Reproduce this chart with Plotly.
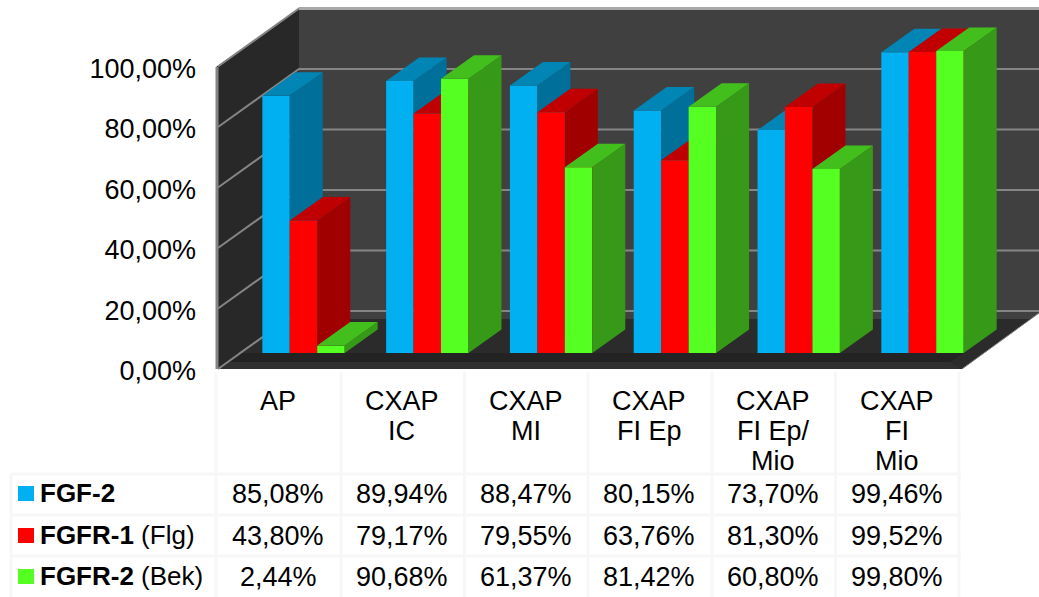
import plotly.graph_objects as go

# Chart data
categories = ["AP", "CXAP<br>IC", "CXAP<br>MI", "CXAP<br>FI Ep", "CXAP<br>FI Ep/<br>Mio", "CXAP<br>FI<br>Mio"]
series_names = ["FGF-2", "FGFR-1", "FGFR-2"]
series_suffix = ["", " (Flg)", " (Bek)"]
fgf2 = [85.08, 89.94, 88.47, 80.15, 73.70, 99.46]
fgfr1 = [43.80, 79.17, 79.55, 63.76, 81.30, 99.52]
fgfr2 = [2.44, 90.68, 61.37, 81.42, 60.80, 99.80]
tick_values = [0, 20, 40, 60, 80, 100]

# Face colours for each series: front, top, side
blue = ("#00B0F0", "#0085B5", "#006F9A")
red = ("#FF0000", "#C00000", "#A00000")
green = ("#55FF22", "#42BF1C", "#369A18")

W, H = 1039, 597
PX_GROUP = 123.8      # horizontal pixels per category
PX_PCT = 3.025        # vertical pixels per percentage point
GROUP0_PX = 303.5     # centre of the first category
BAR_BASE_PX = 353     # zero line of the bars' front plane
AXIS_BASE_PX = 371    # zero line of the value axis labels
PLOT_LEFT_PX = 197
BAR_W = 27.45 / PX_GROUP
BAR_DX, BAR_DY = 33 / PX_GROUP, 23.5 / PX_PCT

x_range = [(PLOT_LEFT_PX - GROUP0_PX) / PX_GROUP, (W - GROUP0_PX) / PX_GROUP]


def y_range(base_px):
    return [-(H - base_px) / PX_PCT, base_px / PX_PCT]


def wx(px):
    return (px - GROUP0_PX) / PX_GROUP


def wy(py):
    return (AXIS_BASE_PX - py) / PX_PCT


def poly(points, color, **kw):
    xs = [wx(p[0]) for p in points]
    ys = [wy(p[1]) for p in points]
    return go.Scatter(x=xs, y=ys, mode="lines", fill="toself", fillcolor=color,
                      line=dict(width=0), hoverinfo="skip", showlegend=False, **kw)


def seg(points, color, width):
    return go.Scatter(x=[wx(p[0]) for p in points], y=[wy(p[1]) for p in points], mode="lines",
                      line=dict(color=color, width=width), hoverinfo="skip", showlegend=False)


fig = go.Figure()

# Chart box: back wall, floor, left wall
fig.add_trace(poly([(299, 9), (1039, 9), (1039, 313), (1031, 319), (287, 319)], "#404040"))
fig.add_trace(poly([(216, 369), (962, 369), (1031, 319), (287, 319)], "#2B2B2B"))
fig.add_trace(poly([(216, 353), (964, 353), (950, 362), (216, 362)], "#232323"))
fig.add_trace(poly([(216, 362), (950, 362), (962, 369), (216, 369)], "#303030"))
fig.add_trace(poly([(216, 67), (299, 9), (299, 311), (216, 369)], "#282828"))

# Gridlines run along the left wall and across the back wall
for t in tick_values:
    back_y = 311 - t * PX_PCT
    front_y = 369 - t * PX_PCT
    fig.add_trace(seg([(218, front_y), (299, back_y), (1039, back_y)], "#858585", 2))
fig.add_trace(seg([(299, 8.5), (1039, 8.5)], "#A8A8A8", 3))
fig.add_trace(seg([(217, 67), (217, 369)], "#858585", 3))
fig.add_trace(seg([(962, 369), (1039, 313)], "#808080", 1))

# One overlaid axis pair per series so that each series paints over the previous one
all_series = [(fgf2, blue), (fgfr1, red), (fgfr2, green)]
for s, (values, (front, top, side)) in enumerate(all_series):
    ax = s + 2
    offset = (s - 1) * BAR_W
    xs = [g + offset for g in range(len(values))]
    fig.add_trace(go.Bar(x=xs, y=values, width=BAR_W, marker=dict(color=front, line=dict(width=0)),
                         name=series_names[s], showlegend=False,
                         xaxis=f"x{ax}", yaxis=f"y{ax}"))
    side_x, side_y, top_x, top_y = [], [], [], []
    for x, v in zip(xs, values):
        l, r = x - BAR_W / 2, x + BAR_W / 2
        side_x += [r, r + BAR_DX, r + BAR_DX, r, r, None]
        side_y += [0, BAR_DY, v + BAR_DY, v, 0, None]
        top_x += [l, l + BAR_DX, r + BAR_DX, r, l, None]
        top_y += [v, v + BAR_DY, v + BAR_DY, v, v, None]
    for px_x, px_y, color in ((side_x, side_y, side), (top_x, top_y, top)):
        fig.add_trace(go.Scatter(x=px_x, y=px_y, mode="lines", fill="toself", fillcolor=color,
                                 line=dict(width=0), hoverinfo="skip", showlegend=False,
                                 xaxis=f"x{ax}", yaxis=f"y{ax}"))

# Data table underneath the chart
annotations = []
shapes = []


def label(text, px, py, size, anchor="center", color="#000000"):
    annotations.append(dict(text=text, x=px / W, y=1 - py / H, xref="paper", yref="paper",
                            xanchor=anchor, yanchor="middle", showarrow=False,
                            font=dict(family="Liberation Sans", size=size, color=color)))


def rule(x0, y0, x1, y1):
    shapes.append(dict(type="line", xref="paper", yref="paper",
                       x0=x0 / W, x1=x1 / W, y0=1 - y0 / H, y1=1 - y1 / H,
                       line=dict(color="#F7F7F7", width=3)))


for vx in [216, 341, 464.5, 588, 712, 835.5, 959]:
    rule(vx, 372, vx, H)
rule(11, 474, 11, H)
for hy in [474, 515, 556]:
    rule(11, hy, 961, hy)

COL_CENTERS = [278 + i * 123.8 for i in range(len(categories))]
for cx, cat in zip(COL_CENTERS, categories):
    for j, line in enumerate(cat.split("<br>")):
        label(line, cx, 401 + j * 30, 27)

ROW_Y = [494, 536, 577]
for py, values, (front, _, _), name, suffix in zip(ROW_Y, (fgf2, fgfr1, fgfr2), (blue, red, green),
                                                   series_names, series_suffix):
    for cx, v in zip(COL_CENTERS, values):
        label(f"{v:.2f}".replace(".", ",") + "%", cx, py, 27)
    shapes.append(dict(type="rect", xref="paper", yref="paper", x0=18 / W, x1=34 / W,
                       y0=1 - (py + 7) / H, y1=1 - (py - 8) / H,
                       fillcolor=front, line=dict(width=0)))
    label(f"<b>{name}</b>{suffix}", 38, py - 1, 26, anchor="left")

DOM = [PLOT_LEFT_PX / W, 1]
layout_axes = dict(
    xaxis=dict(domain=DOM, range=x_range, visible=False, fixedrange=True),
    yaxis=dict(domain=[0, 1], range=y_range(AXIS_BASE_PX), showgrid=False, zeroline=False,
               showline=False, tickmode="array", tickvals=tick_values,
               ticktext=[f"{t},00%" for t in tick_values], ticks="", ticklabelposition="outside",
               tickfont=dict(family="Liberation Sans", size=27, color="#000000"), fixedrange=True),
)
for ax in (2, 3, 4):
    layout_axes[f"xaxis{ax}"] = dict(domain=DOM, range=x_range, overlaying="x", visible=False, anchor=f"y{ax}")
    layout_axes[f"yaxis{ax}"] = dict(domain=[0, 1], range=y_range(BAR_BASE_PX), overlaying="y",
                                     visible=False, anchor=f"x{ax}")

fig.update_layout(width=W, height=H, margin=dict(l=0, r=0, t=0, b=0), autosize=False,
                  paper_bgcolor="#FFFFFF", plot_bgcolor="rgba(0,0,0,0)", showlegend=False,
                  annotations=annotations, shapes=shapes, **layout_axes)

fig.write_html("out.html", config={"displayModeBar": False})
